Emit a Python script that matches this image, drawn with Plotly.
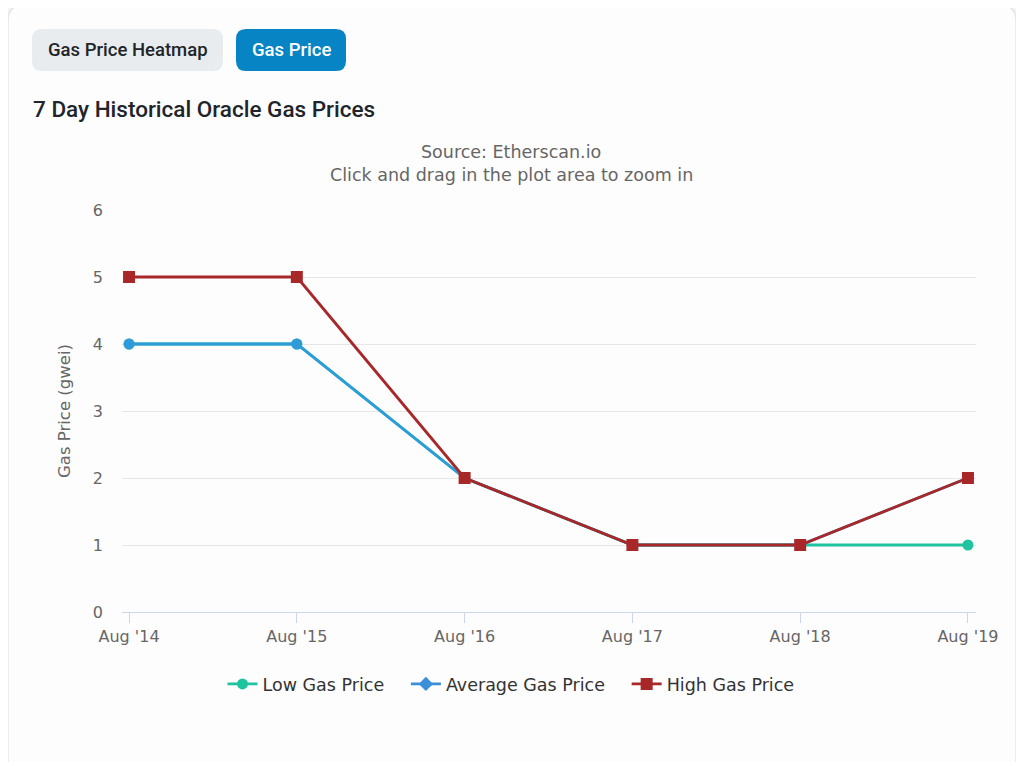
import plotly.graph_objects as go

categories = ["Aug '14", "Aug '15", "Aug '16", "Aug '17", "Aug '18", "Aug '19"]
low_price = [4, 4, 2, 1, 1, 1]
avg_price = [4, 4, 2, 1, 1, 2]
high_price = [5, 5, 2, 1, 1, 2]
y_ticks = [0, 1, 2, 3, 4, 5, 6]

OFF = 8  # page body margin
W, H = 1024 - OFF, 762 - OFF
L, R, T, B = 122 - OFF, 976 - OFF, 210 - OFF, 612 - OFF

def px(x):
    # x given in page pixels
    return (x - OFF - L) / (R - L)

def py(y):
    return (B - (y - OFF)) / (B - T)

def rrect(x0, y0, x1, y1, r):
    X0, X1 = px(x0), px(x1)
    Y0, Y1 = py(y0), py(y1)
    rx = r / (R - L)
    ry = r / (B - T)
    return (f"M {X0+rx},{Y0} L {X1-rx},{Y0} Q {X1},{Y0} {X1},{Y0-ry} "
            f"L {X1},{Y1+ry} Q {X1},{Y1} {X1-rx},{Y1} L {X0+rx},{Y1} "
            f"Q {X0},{Y1} {X0},{Y1+ry} L {X0},{Y0-ry} Q {X0},{Y0} {X0+rx},{Y0} Z")

LOW_C = "#1ec4a0"
AVG_C = "#2f9bd8"
HIGH_C = "#a8282a"
LAB = "DejaVu Sans"
GAP = "\u00a0\u00a0\u00a0"

fig = go.Figure()
fig.add_trace(go.Scatter(x=categories, y=low_price, name="Low Gas Price" + GAP, mode="lines+markers",
                         line=dict(color=LOW_C, width=2.8),
                         marker=dict(symbol="circle", size=11, color=LOW_C)))
fig.add_trace(go.Scatter(x=categories, y=avg_price, name="Average Gas Price", mode="lines+markers",
                         line=dict(color=AVG_C, width=2.8), showlegend=False, legendgroup="avg",
                         marker=dict(symbol="circle", size=11, color=AVG_C)))
fig.add_trace(go.Scatter(x=[None], y=[None], name="Average Gas Price" + GAP, mode="lines+markers",
                         legendgroup="avg",
                         line=dict(color="#3a8fd9", width=2.8),
                         marker=dict(symbol="diamond", size=11, color="#3a8fd9")))
fig.add_trace(go.Scatter(x=categories, y=high_price, name="High Gas Price", mode="lines+markers",
                         line=dict(color=HIGH_C, width=2.8),
                         marker=dict(symbol="square", size=12, color=HIGH_C)))

shapes = [
    dict(type="path", xref="paper", yref="paper", path=rrect(8, 5, 1016, 790, 16),
         line=dict(color="#e4e6e8", width=1.5), fillcolor="#fdfdfd", layer="below"),
    dict(type="path", xref="paper", yref="paper", path=rrect(32, 29, 223, 71, 10),
         line=dict(width=0), fillcolor="#e9ecef", layer="below"),
    dict(type="path", xref="paper", yref="paper", path=rrect(236, 29, 346, 71, 10),
         line=dict(width=0), fillcolor="#0784c3", layer="below"),
]

annotations = [
    dict(text="Gas Price Heatmap", x=px(127.5), y=py(50), xref="paper", yref="paper",
         showarrow=False, xanchor="center", yanchor="middle",
         font=dict(family="Roboto", size=18.5, color="#212529", weight=500)),
    dict(text="Gas Price", x=px(291), y=py(50), xref="paper", yref="paper",
         showarrow=False, xanchor="center", yanchor="middle",
         font=dict(family="Roboto", size=18.5, color="#ffffff", weight=500)),
    dict(text="7 Day Historical Oracle Gas Prices", x=px(31), y=py(109), xref="paper", yref="paper",
         showarrow=False, xanchor="left", yanchor="middle",
         font=dict(family="Roboto", size=22.5, color="#212529", weight=500)),
    dict(text="Source: Etherscan.io", x=px(511), y=py(152), xref="paper", yref="paper",
         showarrow=False, xanchor="center", yanchor="middle",
         font=dict(family=LAB, size=17.5, color="#666666")),
    dict(text="Click and drag in the plot area to zoom in", x=px(511), y=py(175), xref="paper", yref="paper",
         showarrow=False, xanchor="center", yanchor="middle",
         font=dict(family=LAB, size=17.5, color="#666666")),
]

fig.update_layout(
    width=W, height=H,
    margin=dict(l=L, r=W - R, t=T, b=H - B, pad=0),
    paper_bgcolor="#f3f4f5", plot_bgcolor="rgba(0,0,0,0)",
    shapes=shapes, annotations=annotations,
    showlegend=True,
    legend=dict(orientation="h", x=px(511), xanchor="center", y=py(684), yanchor="middle",
                font=dict(family=LAB, size=17.5, color="#333333"), bgcolor="rgba(0,0,0,0)",
                traceorder="normal"),
    xaxis=dict(type="category", range=[-0.042, 5.048], showgrid=False,
               showline=True, linecolor="#ccd6eb", linewidth=1,
               ticks="outside", ticklen=10, tickcolor="#ccd6eb", tickwidth=1,
               tickfont=dict(family=LAB, size=16, color="#666666"), zeroline=False),
    yaxis=dict(range=[0, 6], tickvals=y_ticks, showgrid=True, gridcolor="#e6e6e6", gridwidth=1,
               zeroline=False, showline=False, ticks="", ticklabelstandoff=18,
               tickfont=dict(family=LAB, size=16, color="#666666"),
               title=dict(text="Gas Price (gwei)", standoff=18,
                          font=dict(family=LAB, size=16.5, color="#666666"))),
)

fig.write_html("out.html")
